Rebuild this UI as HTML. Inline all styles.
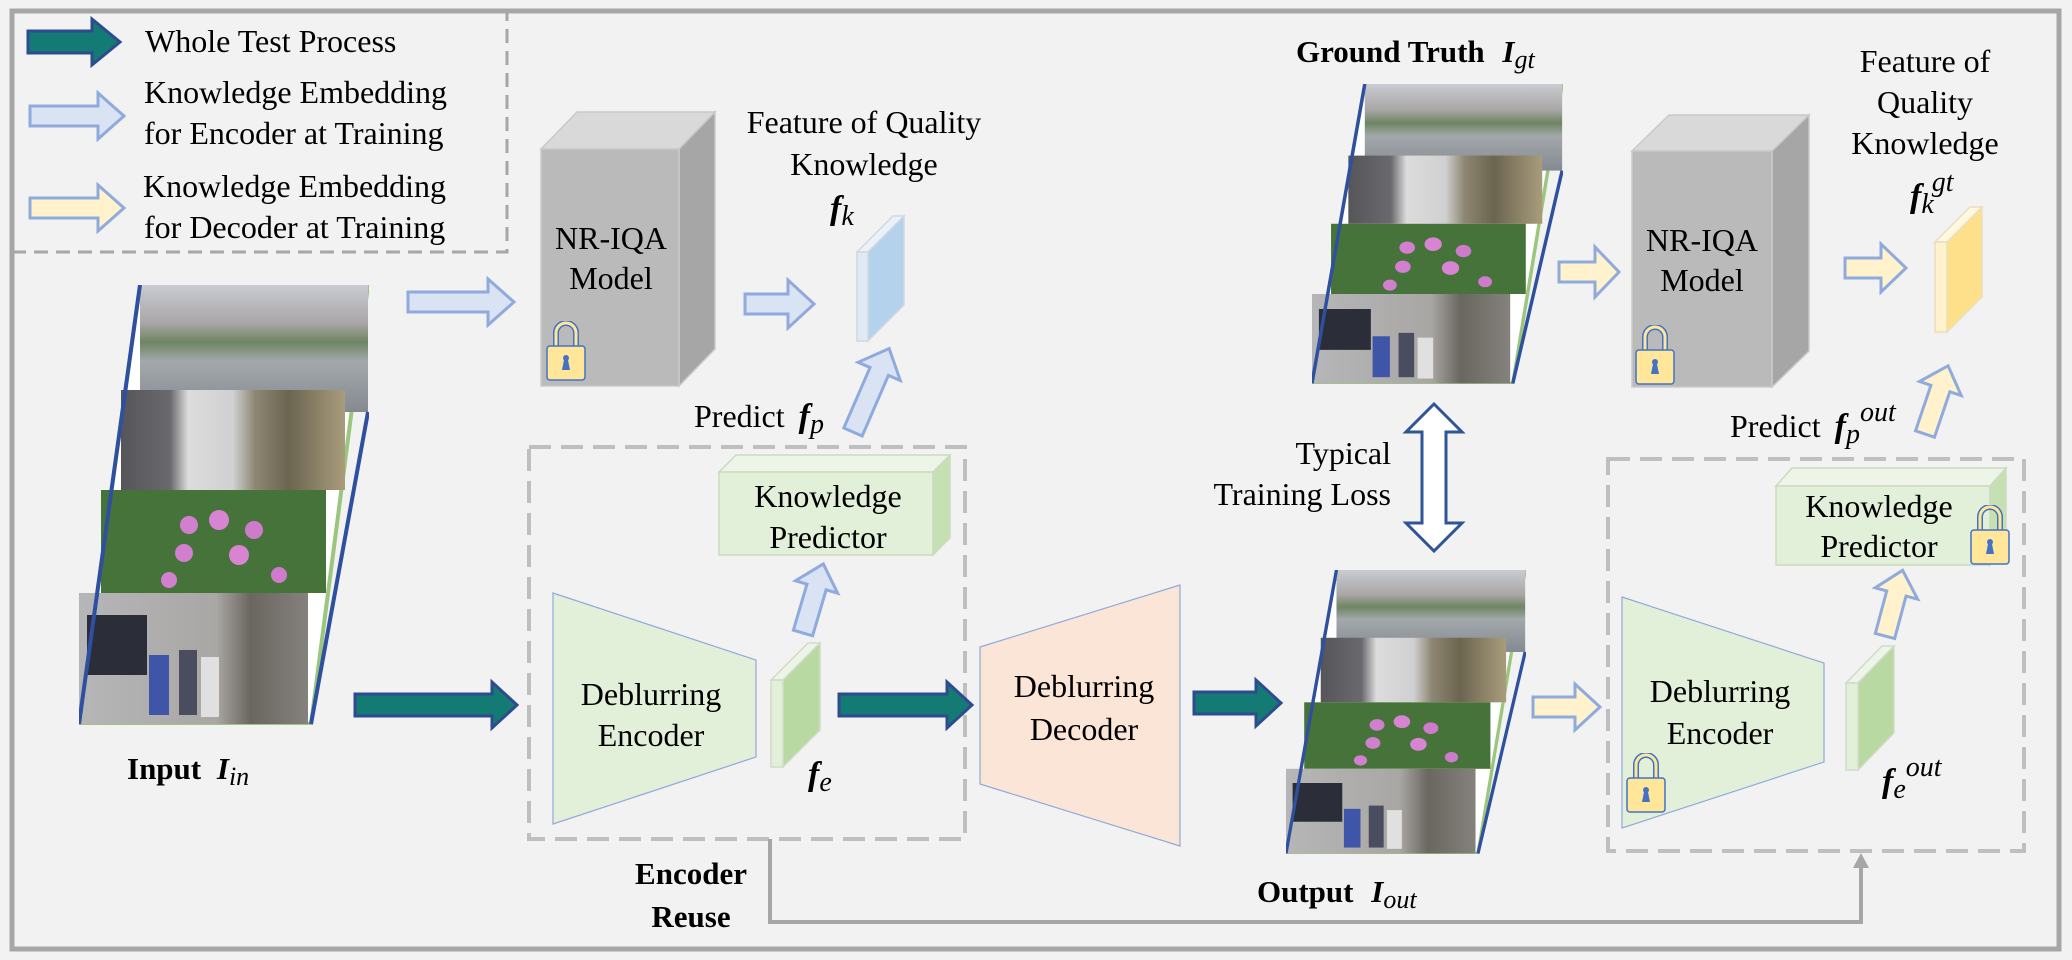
<!DOCTYPE html>
<html><head><meta charset="utf-8"><style>
html,body{margin:0;padding:0;background:#fff}
svg{display:block}
text{font-family:"Liberation Serif",serif;fill:#000}
</style></head><body>
<svg width="2072" height="960" viewBox="0 0 2072 960" xmlns="http://www.w3.org/2000/svg">
<defs>
<linearGradient id="p1" x1="0" y1="0" x2="0" y2="1">
<stop offset="0" stop-color="#c9ccd2"/><stop offset="0.3" stop-color="#a9a6a6"/><stop offset="0.45" stop-color="#6e8562"/><stop offset="0.6" stop-color="#a3a8ab"/><stop offset="1" stop-color="#858a92"/></linearGradient>
<linearGradient id="p2" x1="0" y1="0" x2="1" y2="0">
<stop offset="0" stop-color="#55555a"/><stop offset="0.22" stop-color="#6a6a6e"/><stop offset="0.3" stop-color="#dcdcdc"/><stop offset="0.5" stop-color="#d0d0d2"/><stop offset="0.6" stop-color="#8d8672"/><stop offset="0.75" stop-color="#6b6550"/><stop offset="1" stop-color="#a99c7c"/></linearGradient>
<linearGradient id="p4" x1="0" y1="0" x2="1" y2="0">
<stop offset="0" stop-color="#b6b6b8"/><stop offset="0.6" stop-color="#a9a7a4"/><stop offset="0.75" stop-color="#6a6660"/><stop offset="1" stop-color="#85827d"/></linearGradient>
<symbol id="stack" viewBox="0 0 290 440" preserveAspectRatio="none">
<polygon points="61,0 289,0 232,439 0,439" fill="#fff" stroke="#9cc57d" stroke-width="4"/>
<rect x="61" y="0" width="228" height="127" fill="url(#p1)"/>
<rect x="42" y="105" width="224" height="100" fill="url(#p2)"/>
<rect x="22" y="205" width="225" height="103" fill="#46733a"/>
<circle cx="110" cy="240" r="9" fill="#d27fcf"/><circle cx="140" cy="235" r="10" fill="#d884d2"/><circle cx="175" cy="245" r="9" fill="#cf7bcc"/>
<circle cx="105" cy="268" r="9" fill="#d27fcf"/><circle cx="160" cy="270" r="10" fill="#d884d2"/><circle cx="200" cy="290" r="8" fill="#cf7bcc"/><circle cx="90" cy="295" r="8" fill="#d27fcf"/>
<rect x="0" y="308" width="229" height="131" fill="url(#p4)"/>
<path d="M8,330 h60 v60 h-60z" fill="#2b2e38"/>
<rect x="70" y="370" width="20" height="60" fill="#3f55a8"/><rect x="100" y="365" width="18" height="65" fill="#4a4c60"/><rect x="122" y="372" width="18" height="60" fill="#e0e0e0"/>
<line x1="61" y1="0" x2="0" y2="439" stroke="#2f4f9f" stroke-width="4"/>
<line x1="289" y1="127" x2="232" y2="439" stroke="#2f4f9f" stroke-width="4"/>
</symbol>
<symbol id="lock" viewBox="0 0 40 60">
<path d="M10,26 V12 a10,10 0 0 1 20,0 V26" fill="none" stroke="#4472c4" stroke-width="6"/>
<path d="M10,26 V12 a10,10 0 0 1 20,0 V26" fill="none" stroke="#ffe699" stroke-width="3"/>
<rect x="1" y="25" width="38" height="34" rx="3" fill="#ffe699" stroke="#4472c4" stroke-width="1.5"/>
<circle cx="20" cy="37" r="3" fill="#4472c4"/><path d="M18,39 h4 l2,10 h-8z" fill="#4472c4"/>
</symbol>
</defs>
<rect width="2072" height="960" fill="#f2f2f2"/>
<rect x="12" y="11" width="2047" height="938" fill="none" stroke="#a6a6a6" stroke-width="5"/>
<!-- legend -->
<path d="M12,252 H507 V11" fill="none" stroke="#a6a6a6" stroke-width="3" stroke-dasharray="14 8"/>
<polygon points="28,31 92,31 92,19 120,42 92,65 92,53 28,53" fill="#137a74" stroke="#2f4b8f" stroke-width="3"/>
<polygon points="30,106 98,106 98,93 124,116 98,139 98,126 30,126" fill="#dae3f3" stroke="#8faadc" stroke-width="3"/>
<polygon points="30,198 98,198 98,185 124,208 98,231 98,218 30,218" fill="#fff2cc" stroke="#8faadc" stroke-width="3"/>
<g font-size="32">
<text x="145" y="52">Whole Test Process</text>
<text x="144" y="103">Knowledge Embedding</text>
<text x="144" y="144">for Encoder at Training</text>
<text x="143" y="197">Knowledge Embedding</text>
<text x="144" y="238">for Decoder  at Training</text>
</g>
<!-- input stack -->
<use href="#stack" x="79" y="285" width="290" height="440"/>
<text x="127" y="779" font-size="31" font-weight="bold">Input <tspan font-style="italic" dx="8">I</tspan><tspan font-style="italic" font-weight="normal" font-size="26" dy="6">in</tspan></text>
<!-- arrows top row -->
<polygon points="408,292 488,292 488,279 514,302 488,325 488,312 408,312" fill="#dae3f3" stroke="#8faadc" stroke-width="3"/>
<!-- NR-IQA 1 -->
<polygon points="541,149 577,112 715,112 679,149" fill="#d9d9d9" stroke="#c9c9c9" stroke-width="1.5"/>
<polygon points="679,149 715,112 715,349 679,386" fill="#a6a6a6" stroke="#c9c9c9" stroke-width="1.5"/>
<rect x="541" y="149" width="138" height="237" fill="#bababa" stroke="#c9c9c9" stroke-width="1.5"/>
<use href="#lock" x="546" y="321" width="40" height="60"/>
<text x="611" y="249" font-size="32" text-anchor="middle">NR-IQA</text>
<text x="611" y="289" font-size="32" text-anchor="middle">Model</text>
<polygon points="745,294 788,294 788,280 814,304 788,328 788,314 745,314" fill="#dae3f3" stroke="#8faadc" stroke-width="3"/>
<!-- fk slab -->
<polygon points="857,252 893,216 904,216 868,252" fill="#eaf1f9" stroke="#d0d8e0" stroke-width="1.5"/>
<polygon points="868,252 904,216 904,305 868,341" fill="#b4d2ec" stroke="#d0d8e0" stroke-width="1.5"/>
<rect x="857" y="252" width="11" height="89" fill="#e0eaf5" stroke="#d0d8e0" stroke-width="1.5"/>
<text x="864" y="133" font-size="32" text-anchor="middle">Feature of Quality</text>
<text x="864" y="175" font-size="32" text-anchor="middle">Knowledge</text>
<text x="830" y="219" font-size="34" font-weight="bold" font-style="italic">f<tspan font-weight="normal" font-size="28" dy="6">k</tspan></text>
<text x="694" y="427" font-size="32">Predict <tspan font-weight="bold" font-style="italic" font-size="34" dx="6">f</tspan><tspan font-style="italic" font-size="28" dy="6">p</tspan></text>
<g transform="translate(853,432) rotate(-66.6)"><polygon points="0,-10 66,-10 66,-23 91,0 66,23 66,10 0,10" fill="#dae3f3" stroke="#8faadc" stroke-width="3"/></g>
<!-- dashed box 1 -->
<rect x="529" y="447" width="436" height="392" fill="none" stroke="#bfbfbf" stroke-width="4" stroke-dasharray="22 10"/>
<polygon points="719,472 736,455 950,455 933,472" fill="#eef5e8" stroke="#c9dcbc" stroke-width="1.5"/>
<polygon points="933,472 950,455 950,538 933,555" fill="#c5e0b3" stroke="#c9dcbc" stroke-width="1.5"/>
<rect x="719" y="472" width="214" height="83" fill="#e2efd9" stroke="#c9dcbc" stroke-width="1.5"/>
<text x="828" y="507" font-size="32" text-anchor="middle">Knowledge</text>
<text x="828" y="548" font-size="32" text-anchor="middle">Predictor</text>
<g transform="translate(803,633) rotate(-73.6)"><polygon points="0,-10 48,-10 48,-22 72,0 48,22 48,10 0,10" fill="#dae3f3" stroke="#8faadc" stroke-width="3"/></g>
<polygon points="553,593 756,660 756,757 553,824" fill="#e2efd9" stroke="#8faadc" stroke-width="1.2"/>
<text x="651" y="705" font-size="32" text-anchor="middle">Deblurring</text>
<text x="651" y="746" font-size="32" text-anchor="middle">Encoder</text>
<polygon points="771,680 808,643 820,643 783,680" fill="#eef5e8" stroke="#d0dcc8" stroke-width="1.5"/>
<polygon points="783,680 820,643 820,730 783,767" fill="#b9d9a3" stroke="#d0dcc8" stroke-width="1.5"/>
<rect x="771" y="680" width="12" height="87" fill="#e2efd9" stroke="#d0dcc8" stroke-width="1.5"/>
<text x="808" y="785" font-size="34" font-weight="bold" font-style="italic">f<tspan font-weight="normal" font-size="28" dy="6">e</tspan></text>
<text x="691" y="884" font-size="31" font-weight="bold" text-anchor="middle">Encoder</text>
<text x="691" y="927" font-size="31" font-weight="bold" text-anchor="middle">Reuse</text>
<!-- teal arrows -->
<polygon points="355,694 492,694 492,682 517,705 492,728 492,716 355,716" fill="#137a74" stroke="#2f4b8f" stroke-width="3"/>
<polygon points="839,694 947,694 947,682 972,705 947,728 947,716 839,716" fill="#137a74" stroke="#2f4b8f" stroke-width="3"/>
<polygon points="1194,692 1256,692 1256,680 1281,703 1256,726 1256,714 1194,714" fill="#137a74" stroke="#2f4b8f" stroke-width="3"/>
<!-- decoder -->
<polygon points="980,647 1180,585 1180,846 980,784" fill="#fbe5d6" stroke="#8faadc" stroke-width="1.2"/>
<text x="1084" y="697" font-size="32" text-anchor="middle">Deblurring</text>
<text x="1084" y="740" font-size="32" text-anchor="middle">Decoder</text>
<!-- GT and output stacks -->
<use href="#stack" x="1312" y="84" width="251" height="300"/>
<text x="1296" y="62" font-size="31" font-weight="bold">Ground Truth <tspan font-style="italic" dx="10">I</tspan><tspan font-style="italic" font-weight="normal" font-size="26" dy="6">gt</tspan></text>
<use href="#stack" x="1286" y="570" width="240" height="284"/>
<text x="1257" y="902" font-size="31" font-weight="bold">Output <tspan font-style="italic" dx="10">I</tspan><tspan font-style="italic" font-weight="normal" font-size="26" dy="6">out</tspan></text>
<polygon points="1434,404 1462,432 1446,432 1446,523 1462,523 1434,551 1406,523 1422,523 1422,432 1406,432" fill="#fff" stroke="#2f5597" stroke-width="3"/>
<text x="1391" y="464" font-size="32" text-anchor="end">Typical</text>
<text x="1391" y="505" font-size="32" text-anchor="end">Training Loss</text>
<!-- yellow arrows -->
<polygon points="1559,262 1595,262 1595,247 1619,272 1595,297 1595,282 1559,282" fill="#fff2cc" stroke="#8faadc" stroke-width="3"/>
<polygon points="1845,258 1881,258 1881,244 1906,268 1881,292 1881,278 1845,278" fill="#fff2cc" stroke="#8faadc" stroke-width="3"/>
<polygon points="1533,697 1575,697 1575,684 1600,707 1575,730 1575,717 1533,717" fill="#fff2cc" stroke="#8faadc" stroke-width="3"/>
<!-- NR-IQA 2 -->
<polygon points="1632,151 1669,115 1809,115 1772,151" fill="#d9d9d9" stroke="#c9c9c9" stroke-width="1.5"/>
<polygon points="1772,151 1809,115 1809,351 1772,387" fill="#a6a6a6" stroke="#c9c9c9" stroke-width="1.5"/>
<rect x="1632" y="151" width="140" height="236" fill="#bababa" stroke="#c9c9c9" stroke-width="1.5"/>
<use href="#lock" x="1635" y="325" width="40" height="60"/>
<text x="1702" y="251" font-size="32" text-anchor="middle">NR-IQA</text>
<text x="1702" y="291" font-size="32" text-anchor="middle">Model</text>
<!-- fk gt slab -->
<polygon points="1935,242 1970,207 1982,207 1947,242" fill="#fff8e0" stroke="#e8e0c0" stroke-width="1.5"/>
<polygon points="1947,242 1982,207 1982,297 1947,332" fill="#ffe08a" stroke="#e8e0c0" stroke-width="1.5"/>
<rect x="1935" y="242" width="12" height="90" fill="#fff2cc" stroke="#e8e0c0" stroke-width="1.5"/>
<text x="1925" y="72" font-size="32" text-anchor="middle">Feature of</text>
<text x="1925" y="113" font-size="32" text-anchor="middle">Quality</text>
<text x="1925" y="154" font-size="32" text-anchor="middle">Knowledge</text>
<text x="1910" y="207" font-size="34" font-weight="bold" font-style="italic">f<tspan font-weight="normal" font-size="28" dy="6">k</tspan><tspan font-weight="normal" font-size="28" dx="-2" dy="-22">gt</tspan></text>
<text x="1730" y="437" font-size="32">Predict <tspan font-weight="bold" font-style="italic" font-size="34" dx="6">f</tspan><tspan font-style="italic" font-size="28" dy="6">p</tspan><tspan font-style="italic" font-size="28" dy="-22">out</tspan></text>
<g transform="translate(1925,434) rotate(-71.3)"><polygon points="0,-10 48,-10 48,-22 72,0 48,22 48,10 0,10" fill="#fff2cc" stroke="#8faadc" stroke-width="3"/></g>
<!-- dashed box 2 -->
<rect x="1608" y="459" width="416" height="392" fill="none" stroke="#bfbfbf" stroke-width="4" stroke-dasharray="22 10"/>
<polygon points="1776,486 1792,468 2006,468 1990,486" fill="#eef5e8" stroke="#c9dcbc" stroke-width="1.5"/>
<polygon points="1990,486 2006,468 2006,547 1990,565" fill="#c5e0b3" stroke="#c9dcbc" stroke-width="1.5"/>
<rect x="1776" y="486" width="214" height="79" fill="#e2efd9" stroke="#c9dcbc" stroke-width="1.5"/>
<use href="#lock" x="1970" y="505" width="40" height="60"/>
<text x="1879" y="517" font-size="32" text-anchor="middle">Knowledge</text>
<text x="1879" y="557" font-size="32" text-anchor="middle">Predictor</text>
<g transform="translate(1885,636) rotate(-75)"><polygon points="0,-10 44,-10 44,-22 68,0 44,22 44,10 0,10" fill="#fff2cc" stroke="#8faadc" stroke-width="3"/></g>
<polygon points="1622,597 1824,663 1824,762 1622,828" fill="#e2efd9" stroke="#8faadc" stroke-width="1.2"/>
<text x="1720" y="702" font-size="32" text-anchor="middle">Deblurring</text>
<text x="1720" y="744" font-size="32" text-anchor="middle">Encoder</text>
<use href="#lock" x="1626" y="753" width="40" height="60"/>
<polygon points="1846,683 1882,646 1894,646 1858,683" fill="#eef5e8" stroke="#d0dcc8" stroke-width="1.5"/>
<polygon points="1858,683 1894,646 1894,733 1858,770" fill="#b9d9a3" stroke="#d0dcc8" stroke-width="1.5"/>
<rect x="1846" y="683" width="12" height="87" fill="#e2efd9" stroke="#d0dcc8" stroke-width="1.5"/>
<text x="1882" y="792" font-size="34" font-weight="bold" font-style="italic">f<tspan font-weight="normal" font-size="28" dy="6">e</tspan><tspan font-weight="normal" font-size="28" dy="-22">out</tspan></text>
<!-- reuse connector -->
<path d="M770,839 V922 H1861 V866" fill="none" stroke="#a6a6a6" stroke-width="4"/>
<polygon points="1861,853 1869,868 1853,868" fill="#a6a6a6"/>
</svg>
</body></html>
